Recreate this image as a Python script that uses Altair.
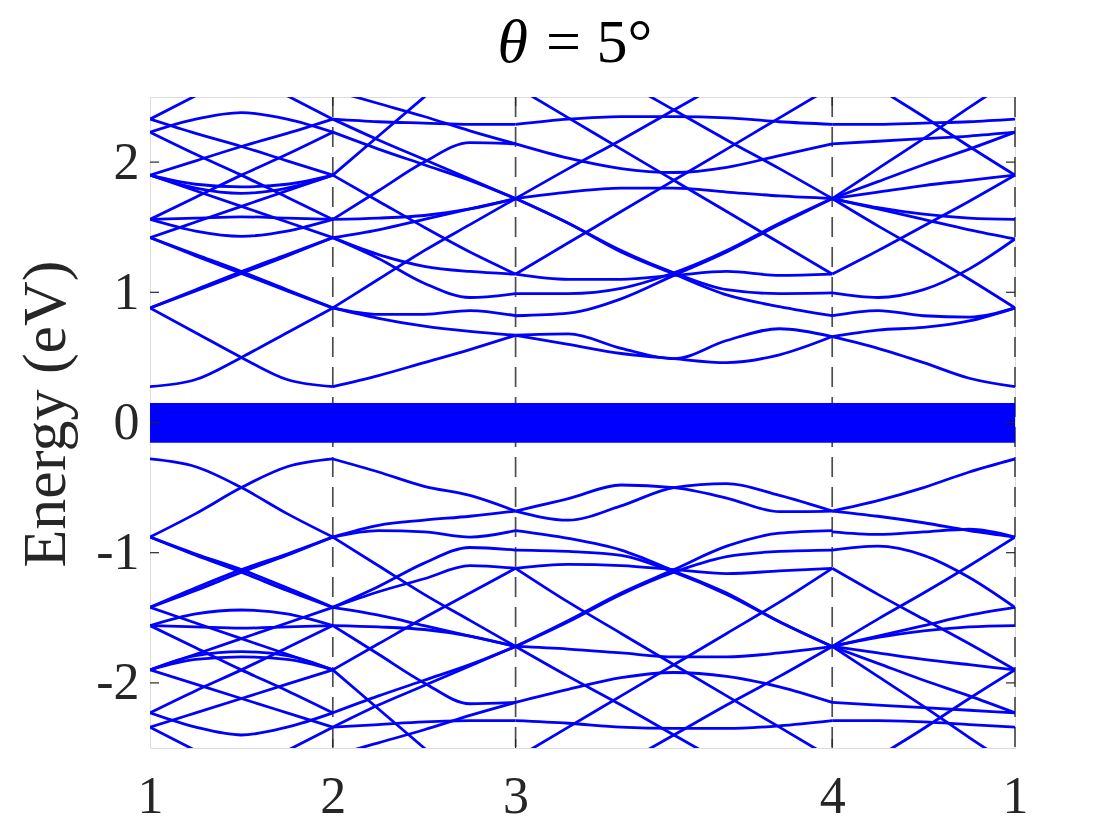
import altair as alt
import pandas as pd

# high-symmetry points along the k-path
kpt_pos = [0.0, 1.0, 2.0, 3.732, 4.732]
kpt_labels = ["1", "2", "3", "4", "1"]
energy_ticks = [-2, -1, 0, 1, 2]

# k samples inside each path segment
xA = [0.0, 0.25, 0.5, 0.75, 1.0]
xB = [1.0, 1.25, 1.5, 1.75, 2.0]
xC = [2.0, 2.2887, 2.5773, 2.866, 3.1547, 3.4433, 3.732]
xD = [3.732, 3.982, 4.232, 4.482, 4.732]

# flat bands around zero energy (drawn as a filled strip)
flat_top = 0.15
flat_bottom = -0.155

# title pieces
title_symbol = "θ"
title_rest = "= 5°"

# ---------- conduction side ----------
cond_A = [
    [0.275, 0.33, 0.50, 0.69, 0.88],
    [0.88, 0.69, 0.50, 0.33, 0.275],
    [0.88, 1.01, 1.145, 1.28, 1.42],
    [0.88, 1.02, 1.16, 1.29, 1.42],
    [1.42, 1.28, 1.145, 1.01, 0.88],
    [1.42, 1.29, 1.16, 1.02, 0.88],
    [1.56, 1.57, 1.58, 1.57, 1.56],
    [1.56, 1.47, 1.43, 1.47, 1.56],
    [1.42, 1.54, 1.66, 1.78, 1.90],
    [1.90, 1.78, 1.66, 1.54, 1.42],
    [1.90, 1.83, 1.81, 1.83, 1.90],
    [1.90, 1.80, 1.76, 1.80, 1.90],
    [1.90, 2.01, 2.12, 2.22, 2.33],
    [2.33, 2.22, 2.12, 2.01, 1.90],
    [1.56, 1.73, 1.90, 2.06, 2.23],
    [2.23, 2.06, 1.90, 1.73, 1.56],
    [2.33, 2.51, 2.69, 2.87, 3.05],
    [3.05, 2.87, 2.69, 2.51, 2.33],
    [2.23, 2.33, 2.38, 2.33, 2.23],
]
cond_B = [
    [0.275, 0.36, 0.46, 0.56, 0.67],
    [0.88, 0.80, 0.74, 0.70, 0.67],
    [0.88, 0.83, 0.83, 0.86, 0.82],
    [1.42, 1.26, 1.07, 0.96, 0.99],
    [1.42, 1.29, 1.20, 1.16, 1.14],
    [1.90, 1.70, 1.50, 1.31, 1.14],
    [0.88, 1.10, 1.32, 1.52, 1.72],
    [1.42, 1.48, 1.56, 1.64, 1.72],
    [1.56, 1.57, 1.59, 1.64, 1.72],
    [2.23, 2.10, 1.98, 1.86, 1.72],
    [2.33, 2.17, 2.02, 1.87, 1.72],
    [1.56, 1.78, 2.00, 2.15, 2.14],
    [2.55, 2.45, 2.35, 2.24, 2.14],
    [2.33, 2.31, 2.30, 2.29, 2.29],
    [1.90, 2.20, 2.50, 2.80, 3.10],
]
cond_C = [
    [0.67, 0.60, 0.53, 0.49, 0.46, 0.52, 0.66],
    [0.67, 0.68, 0.57, 0.49, 0.63, 0.72, 0.66],
    [0.82, 0.84, 0.95, 1.13, 1.31, 1.52, 1.72],
    [0.99, 0.99, 1.03, 1.15, 1.32, 1.53, 1.72],
    [1.72, 1.53, 1.31, 1.14, 0.98, 0.89, 0.82],
    [1.72, 1.53, 1.32, 1.15, 1.02, 0.99, 0.995],
    [1.14, 1.38, 1.62, 1.86, 2.10, 2.34, 2.58],
    [2.58, 2.34, 2.10, 1.86, 1.62, 1.38, 1.14],
    [1.72, 1.77, 1.80, 1.80, 1.77, 1.74, 1.72],
    [1.72, 1.95, 2.17, 2.40, 2.63, 2.86, 3.09],
    [3.09, 2.86, 2.63, 2.40, 2.17, 1.95, 1.72],
    [2.14, 2.03, 1.95, 1.92, 1.96, 2.05, 2.14],
    [2.29, 2.33, 2.35, 2.35, 2.34, 2.31, 2.29],
    [1.14, 1.10, 1.10, 1.13, 1.16, 1.13, 1.14],
]
cond_D = [
    [0.66, 0.57, 0.46, 0.34, 0.275],
    [0.66, 0.71, 0.73, 0.78, 0.88],
    [0.82, 0.86, 0.82, 0.81, 0.88],
    [0.995, 0.96, 1.02, 1.18, 1.41],
    [1.72, 1.51, 1.31, 1.10, 0.88],
    [1.72, 1.65, 1.60, 1.57, 1.56],
    [1.72, 1.64, 1.56, 1.48, 1.41],
    [1.72, 1.77, 1.82, 1.86, 1.90],
    [1.14, 1.32, 1.51, 1.70, 1.90],
    [2.14, 2.16, 2.18, 2.20, 2.23],
    [2.29, 2.29, 2.30, 2.31, 2.33],
    [1.72, 1.95, 2.18, 2.42, 2.65],
    [2.80, 2.57, 2.35, 2.12, 1.90],
    [1.72, 1.85, 1.98, 2.10, 2.23],
]

# ---------- valence side ----------
val_A = [
    [-0.28, -0.34, -0.50, -0.70, -0.88],
    [-0.88, -0.70, -0.50, -0.34, -0.28],
    [-0.88, -1.01, -1.13, -1.27, -1.42],
    [-0.88, -1.02, -1.15, -1.29, -1.42],
    [-1.42, -1.27, -1.13, -1.01, -0.88],
    [-1.42, -1.29, -1.15, -1.02, -0.88],
    [-1.56, -1.57, -1.58, -1.57, -1.56],
    [-1.56, -1.47, -1.44, -1.47, -1.56],
    [-1.42, -1.54, -1.66, -1.78, -1.90],
    [-1.90, -1.78, -1.66, -1.54, -1.42],
    [-1.90, -1.82, -1.80, -1.82, -1.90],
    [-1.90, -1.79, -1.76, -1.79, -1.90],
    [-1.90, -2.01, -2.12, -2.23, -2.34],
    [-2.34, -2.23, -2.12, -2.01, -1.90],
    [-1.56, -1.73, -1.90, -2.06, -2.23],
    [-2.23, -2.06, -1.90, -1.73, -1.56],
    [-2.34, -2.52, -2.70, -2.88, -3.06],
    [-3.06, -2.88, -2.70, -2.52, -2.34],
    [-2.23, -2.34, -2.40, -2.34, -2.23],
]
val_B = [
    [-0.28, -0.38, -0.49, -0.56, -0.68],
    [-0.88, -0.79, -0.75, -0.72, -0.68],
    [-0.88, -0.83, -0.84, -0.88, -0.83],
    [-1.42, -1.26, -1.08, -0.96, -0.98],
    [-1.42, -1.30, -1.20, -1.10, -1.12],
    [-1.90, -1.70, -1.50, -1.31, -1.12],
    [-0.88, -1.10, -1.32, -1.52, -1.72],
    [-1.42, -1.48, -1.56, -1.64, -1.72],
    [-1.56, -1.57, -1.59, -1.64, -1.72],
    [-2.23, -2.10, -1.98, -1.86, -1.72],
    [-2.34, -2.17, -2.02, -1.87, -1.72],
    [-1.56, -1.78, -2.00, -2.16, -2.15],
    [-2.56, -2.46, -2.36, -2.25, -2.15],
    [-2.34, -2.32, -2.30, -2.29, -2.29],
    [-1.90, -2.20, -2.50, -2.80, -3.10],
]
val_C = [
    [-0.68, -0.75, -0.64, -0.50, -0.47, -0.56, -0.68],
    [-0.68, -0.585, -0.48, -0.50, -0.58, -0.685, -0.68],
    [-1.72, -1.52, -1.31, -1.13, -0.95, -0.85, -0.83],
    [-1.72, -1.53, -1.32, -1.15, -1.03, -0.99, -0.98],
    [-0.83, -0.89, -0.98, -1.14, -1.31, -1.53, -1.72],
    [-0.98, -0.99, -1.02, -1.15, -1.32, -1.53, -1.72],
    [-2.58, -2.34, -2.10, -1.86, -1.62, -1.38, -1.12],
    [-1.12, -1.38, -1.62, -1.86, -2.10, -2.34, -2.58],
    [-1.72, -1.74, -1.77, -1.80, -1.80, -1.77, -1.72],
    [-3.09, -2.86, -2.63, -2.40, -2.17, -1.95, -1.72],
    [-1.72, -1.95, -2.17, -2.40, -2.63, -2.86, -3.09],
    [-2.15, -2.05, -1.96, -1.92, -1.95, -2.03, -2.15],
    [-2.29, -2.31, -2.34, -2.35, -2.35, -2.33, -2.29],
    [-1.12, -1.09, -1.10, -1.13, -1.16, -1.14, -1.12],
]
val_D = [
    [-0.68, -0.60, -0.50, -0.38, -0.28],
    [-0.68, -0.72, -0.77, -0.83, -0.88],
    [-0.84, -0.86, -0.84, -0.82, -0.88],
    [-0.98, -0.95, -1.02, -1.19, -1.42],
    [-1.72, -1.51, -1.31, -1.10, -0.88],
    [-1.72, -1.65, -1.60, -1.57, -1.56],
    [-1.72, -1.64, -1.56, -1.48, -1.42],
    [-1.72, -1.77, -1.82, -1.86, -1.90],
    [-1.12, -1.32, -1.51, -1.70, -1.90],
    [-2.15, -2.17, -2.19, -2.21, -2.23],
    [-2.29, -2.29, -2.30, -2.32, -2.34],
    [-1.72, -1.95, -2.18, -2.42, -2.65],
    [-2.80, -2.57, -2.35, -2.12, -1.90],
    [-1.72, -1.85, -1.98, -2.10, -2.23],
]

rows = []
for seg, xs, bands in [
    ("A", xA, cond_A + val_A),
    ("B", xB, cond_B + val_B),
    ("C", xC, cond_C + val_C),
    ("D", xD, cond_D + val_D),
]:
    for i, band in enumerate(bands):
        for k, e in zip(xs, band):
            rows.append({"k": k, "E": e, "band": f"{seg}{i}"})
bands_df = pd.DataFrame(rows)

flat_df = pd.DataFrame({"k": [kpt_pos[0], kpt_pos[-1]],
                        "top": [flat_top, flat_top],
                        "bottom": [flat_bottom, flat_bottom]})
vline_df = pd.DataFrame({"k": kpt_pos[1:]})
inner_kticks_df = pd.DataFrame({"k": kpt_pos[1:-1]})
eticks_df = pd.DataFrame({"E": energy_ticks})
title_df = pd.DataFrame({"a": [title_symbol], "b": [title_rest]})

W, H = 865, 651
FONT = "Liberation Serif"
BLUE = "#0000ff"
AXC = "#262626"

label_expr = " : ".join(
    f"datum.value < {p + 0.3} ? '{lab}'" for p, lab in zip(kpt_pos[:-1], kpt_labels[:-1])
) + f" : '{kpt_labels[-1]}'"

xscale = alt.Scale(domain=[kpt_pos[0], kpt_pos[-1]], nice=False, zero=False)
yscale = alt.Scale(domain=[-2.5, 2.5], nice=False, zero=False)

x_axis = alt.Axis(values=kpt_pos, labelExpr=label_expr, title=None, grid=False,
                  domain=False, ticks=False, tickSize=0, labelFont=FONT,
                  labelFontSize=52, labelColor=AXC, labelBaseline="alphabetic",
                  labelPadding=64, labelFlush=False, labelOverlap=False)
y_axis = alt.Axis(values=energy_ticks, title="Energy (eV)", grid=False, domain=False,
                  ticks=False, tickSize=0, labelFont=FONT, labelFontSize=52,
                  labelColor=AXC, labelPadding=11,
                  labelExpr="datum.value < 0 ? '-' + format(-datum.value, 'd') : format(datum.value, 'd')",
                  titleFont=FONT, titleFontSize=62, titleFontWeight="normal",
                  titleColor=AXC, titleAngle=-90, titleX=-86, titleY=H / 2 - 9,
                  titleAlign="center", titleBaseline="alphabetic")

vlines = alt.Chart(vline_df).mark_rule(color="#4d4d4d", strokeWidth=1.7,
                                       strokeDash=[20, 10]).encode(
    x=alt.X("k:Q", scale=xscale, axis=x_axis))

flat = alt.Chart(flat_df).mark_area(color=BLUE, opacity=1).encode(
    x=alt.X("k:Q", scale=xscale),
    y=alt.Y("top:Q", scale=yscale, axis=y_axis),
    y2="bottom:Q")

lines = alt.Chart(bands_df).mark_line(color=BLUE, strokeWidth=2.8,
                                      interpolate="monotone", clip=True).encode(
    x=alt.X("k:Q", scale=xscale),
    y=alt.Y("E:Q", scale=yscale),
    detail="band:N")

ytick_l = alt.Chart(eticks_df).mark_rule(color=AXC, strokeWidth=1.2).encode(
    y=alt.Y("E:Q", scale=yscale), x=alt.value(0), x2=alt.value(9))
ytick_r = alt.Chart(eticks_df).mark_rule(color=AXC, strokeWidth=1.2).encode(
    y=alt.Y("E:Q", scale=yscale), x=alt.value(W - 9), x2=alt.value(W))
xtick_b = alt.Chart(inner_kticks_df).mark_rule(color=AXC, strokeWidth=1.2).encode(
    x=alt.X("k:Q", scale=xscale), y=alt.value(H - 9), y2=alt.value(H))
xtick_t = alt.Chart(inner_kticks_df).mark_rule(color=AXC, strokeWidth=1.2).encode(
    x=alt.X("k:Q", scale=xscale), y=alt.value(0), y2=alt.value(9))

title_a = alt.Chart(title_df).mark_text(font=FONT, fontSize=62, fontStyle="italic",
                                        align="right", baseline="alphabetic",
                                        color="#000000").encode(
    text="a:N", x=alt.value(378), y=alt.value(-35))
title_b = alt.Chart(title_df).mark_text(font=FONT, fontSize=62, align="left",
                                        baseline="alphabetic", color="#000000").encode(
    text="b:N", x=alt.value(396), y=alt.value(-35))

chart = alt.layer(vlines, flat, lines, ytick_l, ytick_r, xtick_b, xtick_t,
                  title_a, title_b).properties(
    width=W, height=H,
    padding={"left": 142, "top": 89, "right": 97, "bottom": 84},
    autosize=alt.AutoSizeParams(type="none"),
).configure_view(stroke=AXC, strokeWidth=1.2).configure(background="white")

chart.save("out.html", embed_options={"renderer": "svg", "actions": False})
